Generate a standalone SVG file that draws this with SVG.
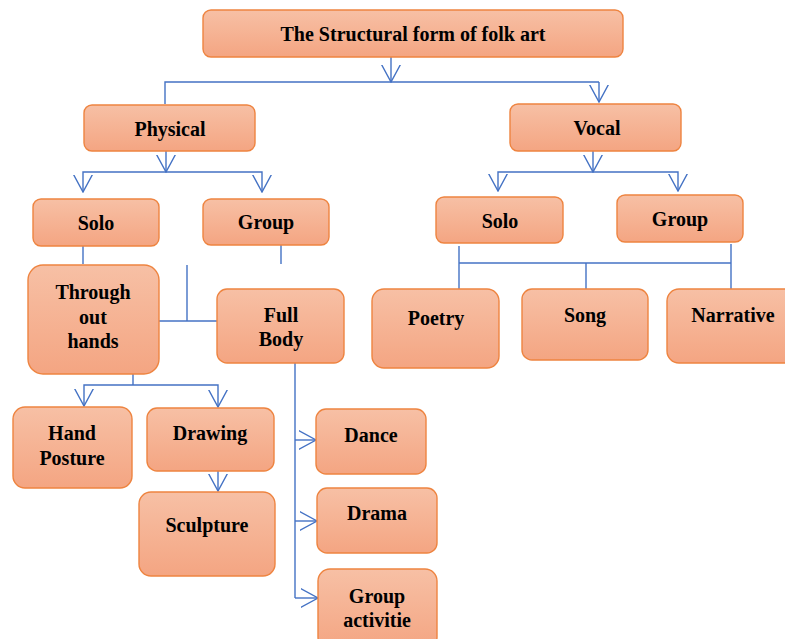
<svg xmlns="http://www.w3.org/2000/svg" width="785" height="639" viewBox="0 0 785 639">
<defs>
<linearGradient id="g" x1="0" y1="0" x2="0" y2="1">
<stop offset="0" stop-color="#f7c0a5"/>
<stop offset="1" stop-color="#f4a582"/>
</linearGradient>
<marker id="v" viewBox="0 0 18 20" refX="17.5" refY="10" markerWidth="18" markerHeight="20" markerUnits="userSpaceOnUse" orient="auto">
<path d="M0,0.5 L17.5,10 L0,19.5" fill="none" stroke="#4472c4" stroke-width="1.4"/>
</marker>
<style>
.n rect{fill:url(#g);stroke:#ee8440;stroke-width:1.4}
.n text{font-family:"Liberation Serif","Times New Roman",serif;font-weight:bold;font-size:20px;fill:#000;text-anchor:middle}
.c path{fill:none;stroke:#4472c4;stroke-width:1.4}
.c .a{marker-end:url(#v)}
</style>
</defs>
<rect width="785" height="639" fill="#fff"/>
<g class="c">
<path class="a" d="M391,57 V82"/>
<path d="M165,104 V82 H599"/>
<path class="a" d="M599,82 V102"/>
<path class="a" d="M166,151 V172"/>
<path class="a" d="M166,172 H83 V192"/>
<path class="a" d="M166,172 H262 V192"/>
<path class="a" d="M593,151 V172"/>
<path class="a" d="M593,172 H498 V191"/>
<path class="a" d="M593,172 H678 V191"/>
<path d="M83,246 V264"/>
<path d="M281,245 V264"/>
<path d="M187,265 V321"/>
<path d="M159,321 H217"/>
<path d="M133,363 V385"/>
<path class="a" d="M133,385 H84 V406"/>
<path class="a" d="M133,385 H218 V407"/>
<path class="a" d="M218,471 V491"/>
<path d="M295,363 V598"/>
<path class="a" d="M295,440 H316"/>
<path class="a" d="M295,521 H317"/>
<path class="a" d="M295,598 H318"/>
<path d="M459,246 V289"/>
<path d="M731,244 V289"/>
<path d="M459,263 H731"/>
<path d="M586,263 V289"/>
</g>
<g id="root" class="n"><rect x="203" y="10" width="420" height="47" rx="8"/><text x="413" y="41">The Structural form of folk art</text></g>
<g id="physical" class="n"><rect x="84" y="105" width="171" height="46" rx="8"/><text x="170" y="136">Physical</text></g>
<g id="vocal" class="n"><rect x="510" y="104" width="171" height="47" rx="8"/><text x="597" y="135">Vocal</text></g>
<g id="p-solo" class="n"><rect x="33" y="199" width="126" height="47" rx="8"/><text x="96" y="230">Solo</text></g>
<g id="p-group" class="n"><rect x="203" y="199" width="126" height="46" rx="8"/><text x="266" y="229">Group</text></g>
<g id="v-solo" class="n"><rect x="436" y="197" width="127" height="46" rx="8"/><text x="500" y="228">Solo</text></g>
<g id="v-group" class="n"><rect x="617" y="195" width="126" height="47" rx="8"/><text x="680" y="226">Group</text></g>
<g id="hands" class="n"><rect x="28" y="265" width="131" height="109" rx="15"/><text x="93" y="299">Through</text><text x="93" y="324">out</text><text x="93" y="348">hands</text></g>
<g id="fullbody" class="n"><rect x="217" y="289" width="127" height="74" rx="10"/><text x="281" y="322">Full</text><text x="281" y="346">Body</text></g>
<g id="poetry" class="n"><rect x="372" y="289" width="127" height="79" rx="12"/><text x="436" y="325">Poetry</text></g>
<g id="song" class="n"><rect x="522" y="289" width="126" height="71" rx="10"/><text x="585" y="322">Song</text></g>
<g id="narrative" class="n"><rect x="667" y="289" width="132" height="74" rx="12"/><text x="733" y="322">Narrative</text></g>
<g id="handposture" class="n"><rect x="13" y="407" width="119" height="81" rx="12"/><text x="72" y="440">Hand</text><text x="72" y="465">Posture</text></g>
<g id="drawing" class="n"><rect x="147" y="408" width="127" height="63" rx="10"/><text x="210" y="440">Drawing</text></g>
<g id="sculpture" class="n"><rect x="139" y="492" width="136" height="84" rx="12"/><text x="207" y="532">Sculpture</text></g>
<g id="dance" class="n"><rect x="316" y="409" width="110" height="65" rx="10"/><text x="371" y="442">Dance</text></g>
<g id="drama" class="n"><rect x="317" y="488" width="120" height="65" rx="10"/><text x="377" y="520">Drama</text></g>
<g id="groupact" class="n"><rect x="318" y="569" width="119" height="80" rx="12"/><text x="377" y="603">Group</text><text x="377" y="627">activitie</text></g>
</svg>
